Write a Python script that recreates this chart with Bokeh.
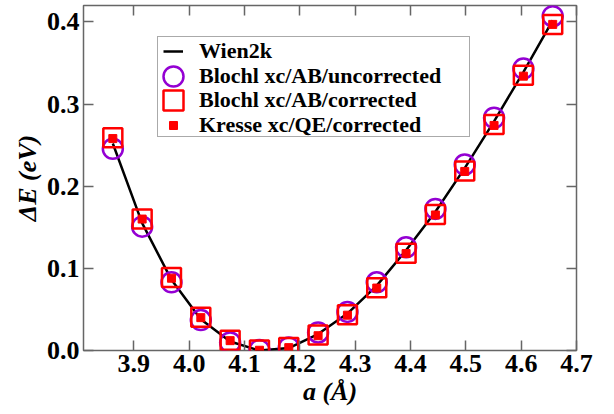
from bokeh.plotting import figure
from bokeh.models import (Range1d, LinearAxis, FixedTicker, PrintfTickFormatter,
                          Legend, LegendItem)
from bokeh.embed import file_html
from bokeh.resources import INLINE

# ---- data ----
a_latt = [3.862, 3.915, 3.968, 4.021, 4.074, 4.127, 4.180, 4.233,
          4.286, 4.339, 4.392, 4.445, 4.498, 4.551, 4.604, 4.657]
e_wien2k = [0.252, 0.155, 0.086, 0.038, 0.011, 0.000, 0.003, 0.020,
            0.045, 0.079, 0.122, 0.169, 0.222, 0.279, 0.339, 0.402]
e_blochl_uncorr = [0.2456, 0.1508, 0.083, 0.037, 0.0098, 0.0005, 0.0037, 0.022,
                   0.047, 0.083, 0.1256, 0.1724, 0.2265, 0.2834, 0.3432, 0.407]
e_blochl_corr = [0.259, 0.1602, 0.089, 0.0405, 0.0125, 0.0005, 0.0037, 0.019,
                 0.0435, 0.0765, 0.1185, 0.1655, 0.2185, 0.275, 0.335, 0.397]
e_kresse_corr = [0.258, 0.160, 0.088, 0.040, 0.012, 0.0003, 0.0035, 0.018,
                 0.043, 0.076, 0.118, 0.165, 0.218, 0.274, 0.334, 0.397]
x_ticks = [3.9, 4.0, 4.1, 4.2, 4.3, 4.4, 4.5, 4.6, 4.7]
y_ticks = [0.0, 0.1, 0.2, 0.3, 0.4]
series_labels = ["Wien2k", "Blochl xc/AB/uncorrected",
                 "Blochl xc/AB/corrected", "Kresse xc/QE/corrected"]

FONT = "Liberation Serif"
GRAY = "#666666"
VIOLET = "#9400d3"

p = figure(width=614, height=414, output_backend="svg", toolbar_location=None,
           x_range=Range1d(3.809, 4.7), y_range=Range1d(0.0, 0.42),
           x_axis_location=None, y_axis_location=None,
           min_border_left=83, min_border_right=38,
           min_border_top=5, min_border_bottom=64)
p.xgrid.visible = False
p.ygrid.visible = False
p.outline_line_color = GRAY
p.outline_line_width = 1.5
p.background_fill_color = "white"
p.border_fill_color = "white"


def style_axis(ax, ticks, labels):
    ax.ticker = FixedTicker(ticks=ticks)
    ax.major_tick_in = 10
    ax.major_tick_out = 0
    ax.major_tick_line_color = GRAY
    ax.major_tick_line_width = 1.5
    ax.minor_tick_line_color = None
    ax.axis_line_color = None
    ax.major_label_text_font = FONT
    ax.major_label_text_font_style = "bold"
    ax.major_label_text_font_size = "26px"
    ax.major_label_text_color = "black"
    ax.axis_label_text_font = FONT
    ax.axis_label_text_font_style = "bold italic"
    ax.axis_label_text_font_size = "26px"
    ax.axis_label_text_color = "black"
    if labels:
        ax.formatter = PrintfTickFormatter(format="%.1f")
        ax.major_label_standoff = 4
    else:
        ax.formatter = PrintfTickFormatter(format="")
        ax.major_label_standoff = 0


xb = LinearAxis(axis_label="a (Å)", axis_label_standoff=2)
style_axis(xb, x_ticks, True)
yl = LinearAxis(axis_label="ΔE (eV)", axis_label_standoff=2)
style_axis(yl, y_ticks, True)
xt = LinearAxis()
style_axis(xt, x_ticks, False)
yr = LinearAxis()
style_axis(yr, y_ticks, False)
p.add_layout(xb, "below")
p.add_layout(yl, "left")
p.add_layout(xt, "above")
p.add_layout(yr, "right")

line_r = p.line(a_latt, e_wien2k, line_color="black", line_width=2.5)
circ_r = p.scatter(a_latt, e_blochl_uncorr, marker="circle", size=20,
                   fill_color=None, line_color=VIOLET, line_width=2.5)
sq_r = p.scatter(a_latt, e_blochl_corr, marker="square", size=19,
                 fill_color=None, line_color="red", line_width=2.5)
fsq_r = p.scatter(a_latt, e_kresse_corr, marker="square", size=8,
                  fill_color="red", line_color="red", line_width=1)

# legend frame (white box with grey border)
frame_legend = Legend(
    items=[LegendItem(label=" ", renderers=[])],
    location=(74, 213), padding=0, spacing=0, margin=0,
    glyph_width=311, glyph_height=99, label_standoff=0, label_width=0,
    label_height=0, label_text_font_size="1px",
    border_line_color="#555555", border_line_width=1.5,
    background_fill_color="white", background_fill_alpha=1.0)
p.add_layout(frame_legend, "center")

# one legend per row so that row pitch and marker sizes match the reference
row_specs = [  # (renderer, glyph size, x offset, y offset, standoff)
    (line_r, 20, 80, 274.0, 16),
    (circ_r, 50, 65, 249.5, 1),
    (sq_r, 50, 65, 225.0, 1),
    (fsq_r, 20, 80, 200.5, 16),
]
for label, (rend, gw, lx, ly, so) in zip(series_labels, row_specs):
    lg = Legend(
        items=[LegendItem(label=label, renderers=[rend])],
        location=(lx, ly), padding=0, spacing=0, margin=0,
        glyph_width=gw, glyph_height=50, label_standoff=so,
        label_text_font=FONT, label_text_font_style="bold",
        label_text_font_size="22px", label_text_color="black",
        border_line_color=None, background_fill_alpha=0.0)
    p.add_layout(lg, "center")

open("out.html", "w").write(file_html(p, INLINE))
